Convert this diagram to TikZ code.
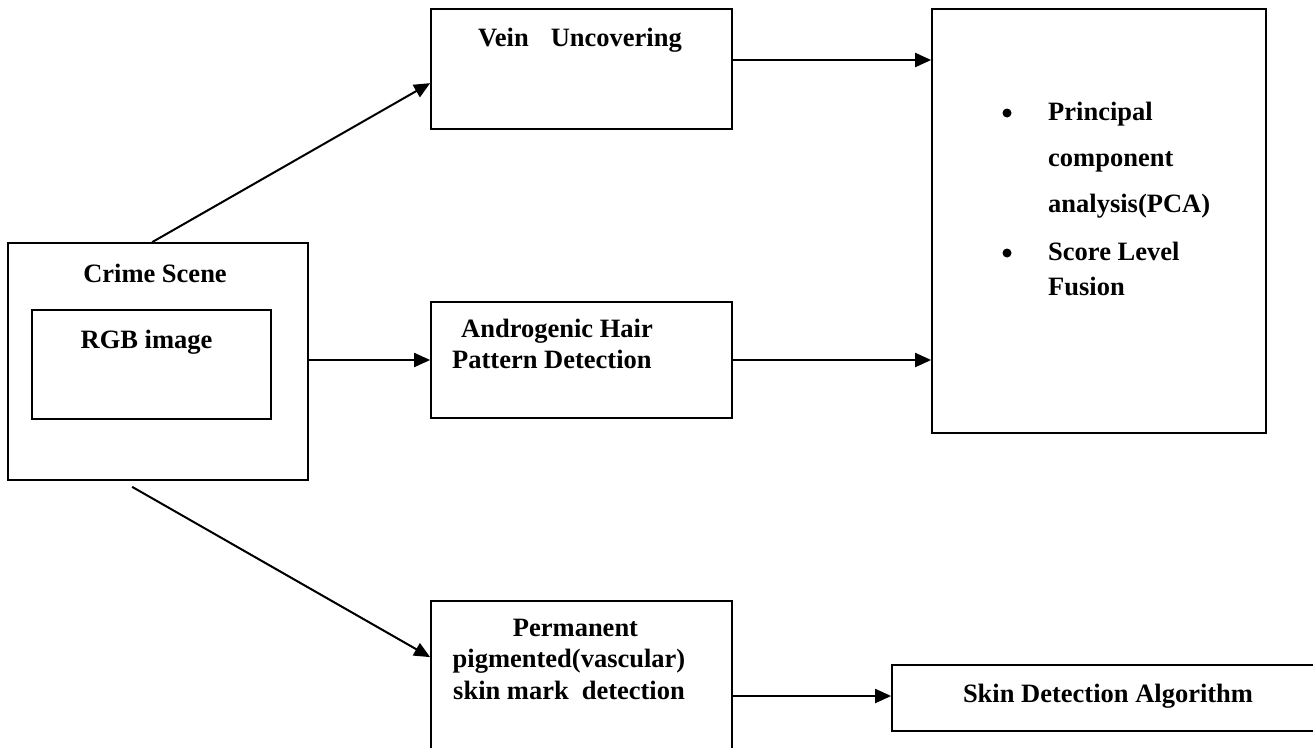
\documentclass[tikz,border=0pt]{standalone}
\usepackage{fontspec}
\setmainfont{Liberation Serif}
\usetikzlibrary{arrows.meta}
\tikzset{
  box/.style={draw=black, line width=1.7pt, rectangle, inner sep=0pt},
  txt/.style={font=\fontsize{26.5}{32}\selectfont\bfseries, inner sep=0pt, anchor=base},
  txtw/.style={txt, anchor=base west},
  arr/.style={line width=2pt, -{Triangle[length=16pt,width=14pt]}},
  dot/.style={circle, fill=black, inner sep=0pt, minimum size=9pt}
}
\begin{document}
\begin{tikzpicture}[x=1pt,y=-1pt]
\useasboundingbox (0,0) rectangle (1313,747);
\clip (0,0) rectangle (1313,747);
\fill[white] (0,0) rectangle (1313,747);
% boxes
\node[box, minimum width=300pt, minimum height=237pt] (crime) at (158,361.5) {};
\node[box, minimum width=239pt, minimum height=109pt] (rgb) at (151.5,364.5) {};
\node[box, minimum width=301pt, minimum height=120pt] (vein) at (581.5,69) {};
\node[box, minimum width=301pt, minimum height=116pt] (andro) at (581.5,360) {};
\node[box, minimum width=301pt, minimum height=159pt] (perm) at (581.5,680.5) {};
\node[box, minimum width=334pt, minimum height=424pt] (right) at (1099,221) {};
\node[box, minimum width=438pt, minimum height=66pt] (skin) at (1111,698) {};
% texts
\node[txt] (tcrime) at (155,282) {Crime Scene};
\node[txt] (trgb) at (146.5,348) {RGB image};
\node[txt] (tvein) at (580,46) {Vein\hspace{22pt}Uncovering};
\node[txtw] (tandro1) at (461,337) {Androgenic Hair};
\node[txtw] (tandro2) at (452,368) {Pattern Detection};
\node[txt] (tperm1) at (575.5,636) {Permanent};
\node[txt] (tperm2) at (569,667) {pigmented(vascular)};
\node[txtw] (tperm3) at (453,699) {skin mark\hspace{13pt}detection};
\node[txt] (tskin) at (1108,702) {Skin Detection Algorithm};
\node[dot] (b1) at (1007,113) {};
\node[dot] (b2) at (1007,253) {};
\node[txtw] (tl1) at (1048,120) {Principal};
\node[txtw] (tl2) at (1048,166) {component};
\node[txtw] (tl3) at (1048,212) {analysis(PCA)};
\node[txtw] (tl4) at (1048,260) {Score Level};
\node[txtw] (tl5) at (1048,295) {Fusion};
% connectors
\draw[arr] ([xshift=145pt]crime.north west) -- ([yshift=-75pt]vein.north west);
\coordinate (v1) at ([yshift=9pt]vein.east);
\draw[arr] (v1) -- (v1 -| right.west);
\draw[arr] (crime.east |- andro.west) -- (andro.west);
\draw[arr] (andro.east) -- (andro.east -| right.west);
\draw[arr] ([xshift=125pt,yshift=-6pt]crime.south west) -- ([yshift=-57pt]perm.north west);
\coordinate (p1) at ([yshift=-15.5pt]perm.east);
\draw[arr] (p1) -- (p1 -| skin.west);
\end{tikzpicture}
\end{document}
